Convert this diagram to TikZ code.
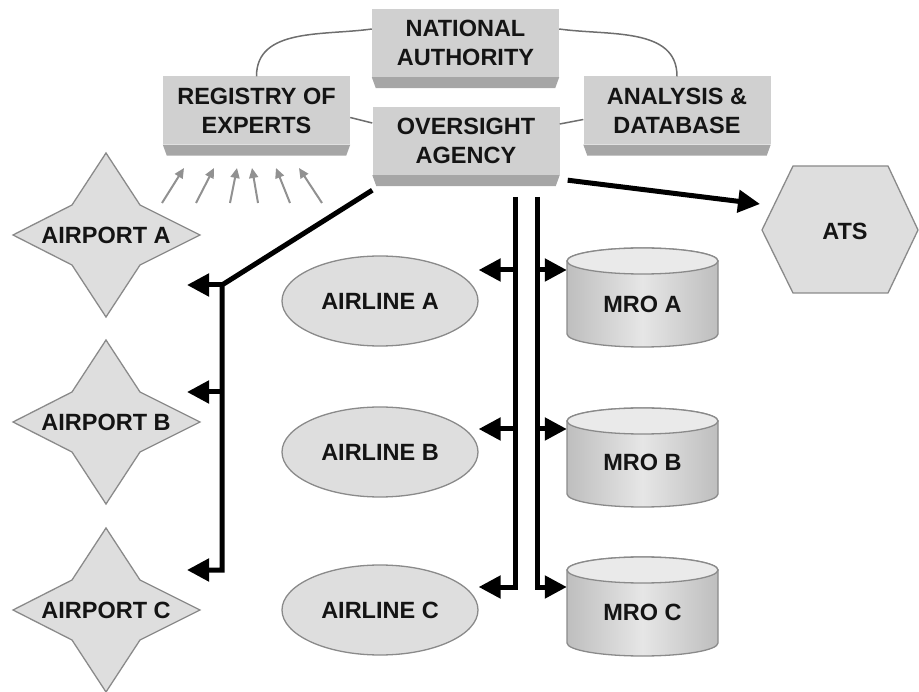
\documentclass[tikz,border=0pt]{standalone}
\usepackage{fontspec}
\setmainfont{Liberation Sans}
\usetikzlibrary{arrows.meta,shapes.geometric}

\definecolor{facegray}{RGB}{208,208,208}
\definecolor{bevelgray}{RGB}{166,166,166}
\definecolor{shapegray}{RGB}{222,222,222}
\definecolor{edgegray}{RGB}{138,138,138}
\definecolor{linkgray}{RGB}{110,110,110}
\definecolor{feedgray}{RGB}{145,145,145}
\definecolor{cylside}{RGB}{190,190,190}
\definecolor{cylmid}{RGB}{230,230,230}
\definecolor{cyltop}{RGB}{234,234,234}
\definecolor{inkblack}{RGB}{20,20,20}

\begin{document}
\begin{tikzpicture}[x=1pt,y=1pt,
    font=\fontsize{23.5}{29}\selectfont\bfseries,text=inkblack,
    face/.style={fill=facegray,minimum width=187pt,minimum height=68pt,
      inner sep=0pt,align=center},
    airline/.style={ellipse,draw=edgegray,line width=1.3pt,fill=shapegray,
      minimum width=196pt,minimum height=90pt,inner sep=0pt},
    outline/.style={draw=edgegray,line width=1.3pt,fill=shapegray},
    link/.style={draw=linkgray,line width=1.5pt},
    feed/.style={feedgray,line width=2pt,-{Triangle[length=10pt,width=9pt]}},
    flow/.style={line width=5pt,-{Triangle[length=22pt,width=22pt]}}]
  \useasboundingbox (0,0) rectangle (919,-692);

  % Authority boxes, each with a darker bevel underneath.
  \node[face] (nat) at (465.5,-43) {NATIONAL\\AUTHORITY};
  \node[face] (reg) at (256.5,-110.5) {REGISTRY OF\\EXPERTS};
  \node[face] (ovs) at (466,-141) {OVERSIGHT\\AGENCY};
  \node[face] (ana) at (677,-110.5) {ANALYSIS \&\\DATABASE};
  \foreach \b in {nat,reg,ovs,ana}
    \fill[bevelgray] (\b.south west) -- (\b.south east)
      -- ([shift={(-4,-11)}]\b.south east)
      -- ([shift={(4,-11)}]\b.south west) -- cycle;

  \draw[link] (reg.north) to[out=90,in=188] ([yshift=14pt]nat.west);
  \draw[link] ([yshift=14pt]nat.east) to[out=-8,in=90] (ana.north);
  \draw[link] ([yshift=-7pt]reg.east) -- ([yshift=18pt]ovs.west);
  \draw[link] ([yshift=17pt]ovs.east) -- ([yshift=-9pt]ana.west);

  % Experts drawn in from below.
  \foreach \t/\h in {162/184,196/214,230/237,258/252,290/276,322/299}
    \draw[feed] (\t,-203) -- (\h,-168);

  % Airports: four-pointed stars.
  \foreach \n/\y in {A/235,B/422,C/610}{
    \draw[outline] (106,{-\y+82}) -- (140,{-\y+30}) -- (200,-\y)
      -- (140,{-\y-30}) -- (106,{-\y-82}) -- (72,{-\y-30})
      -- (13,-\y) -- (72,{-\y+30}) -- cycle;
    \node (ap\n) at (106,-\y) {AIRPORT \n};
  }

  % Airlines.
  \node[airline] (alA) at (380,-301) {AIRLINE A};
  \node[airline] (alB) at (380,-452) {AIRLINE B};
  \node[airline] (alC) at (380,-610) {AIRLINE C};

  % Maintenance organisations: cylinders.
  \foreach \n/\t/\c in {A/248/304,B/408/462,C/557/612}{
    \draw[draw=edgegray,line width=1.3pt,left color=cylside,
      right color=cylside,middle color=cylmid]
      (567,{-\t-13}) -- (567,{-\t-86})
      arc[start angle=180,end angle=360,x radius=75.5,y radius=13]
      -- (718,{-\t-13})
      arc[start angle=0,end angle=180,x radius=75.5,y radius=13] -- cycle;
    \draw[draw=edgegray,line width=1.3pt,fill=cyltop]
      (642.5,{-\t-13}) ellipse[x radius=75.5,y radius=13];
    \node[minimum width=151pt,inner sep=0pt] (mro\n) at (642.5,-\c) {MRO \n};
  }

  % Air traffic services.
  \draw[outline] (762,-230) -- (793,-166) -- (888,-166) -- (918,-230)
    -- (888,-293) -- (793,-293) -- cycle;
  \node (ats) at (845,-231) {ATS};

  % Oversight flows.
  \coordinate (apbus) at (222,-285);
  \coordinate (atsin) at (760,-204);
  \draw[flow] ([yshift=-15pt]ovs.south west) -- (apbus) |- (187,-570);
  \draw[flow] (apbus) -- (187,-285);
  \draw[flow] (222,-392) -- (187,-392);
  \draw[flow] ([shift={(8,-5)}]ovs.south east) -- (atsin);

  \draw[flow] (515,-197) |- ([yshift=23pt]alC.east);
  \draw[flow] (515,-270) -- ([yshift=31pt]alA.east);
  \draw[flow] (515,-429) -- ([yshift=23pt]alB.east);
  \draw[flow] (537,-197) |- ([yshift=25pt]mroC.west);
  \draw[flow] (537,-270) -- ([yshift=34pt]mroA.west);
  \draw[flow] (537,-429) -- ([yshift=33pt]mroB.west);
\end{tikzpicture}
\end{document}
